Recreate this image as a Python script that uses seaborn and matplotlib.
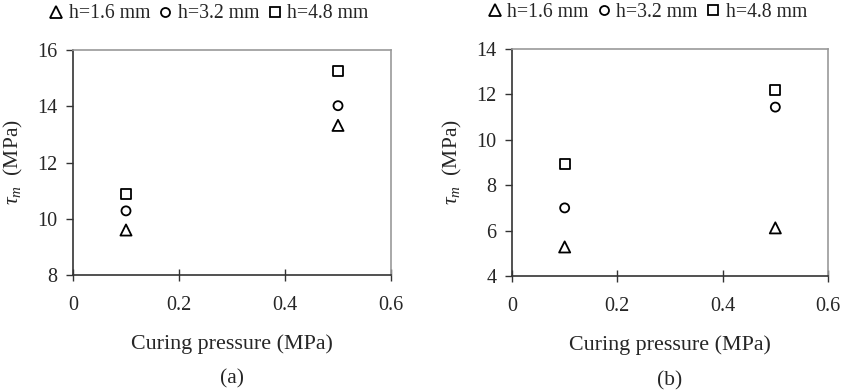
import matplotlib
matplotlib.use("Agg")
import matplotlib.pyplot as plt
import seaborn as sns
import pandas as pd
from matplotlib.lines import Line2D

# Data
pressure = [0.1, 0.5]
series_labels = ["h=1.6 mm", "h=3.2 mm", "h=4.8 mm"]
a_h16 = [9.60, 13.32]
a_h32 = [10.28, 14.02]
a_h48 = [10.88, 15.25]
b_h16 = [5.28, 6.12]
b_h32 = [7.00, 11.44]
b_h48 = [8.92, 12.18]
x_ticks = [0, 0.2, 0.4, 0.6]
a_yticks = [8, 10, 12, 14, 16]
b_yticks = [4, 6, 8, 10, 12, 14]
captions = ["(a)", "(b)"]

def long_df(vals):
    rows = []
    for lab, v in zip(series_labels, vals):
        for x, y in zip(pressure, v):
            rows.append({"p": x, "tau": y, "h": lab})
    return pd.DataFrame(rows)

df_a = long_df([a_h16, a_h32, a_h48])
df_b = long_df([b_h16, b_h32, b_h48])

sns.set_theme(style="white")
plt.rcParams["font.family"] = ["Liberation Serif", "DejaVu Serif"]
plt.rcParams["mathtext.fontset"] = "custom"
plt.rcParams["mathtext.it"] = "Liberation Serif:italic"
plt.rcParams["mathtext.rm"] = "Liberation Serif"

fig = plt.figure(figsize=(8.43, 3.91), dpi=100)
W, H = 843, 391
axA = fig.add_axes([73 / W, 1 - 275 / H, (391 - 73) / W, (275 - 50) / H])
axB = fig.add_axes([512 / W, 1 - 276 / H, (828 - 512) / W, (276 - 49) / H])

markers = {"h=1.6 mm": "^", "h=3.2 mm": "o", "h=4.8 mm": "s"}
sizes_pt = {"h=1.6 mm": 8, "h=3.2 mm": 6.5, "h=4.8 mm": 7}

for ax, df, yt, cap in [(axA, df_a, a_yticks, captions[0]), (axB, df_b, b_yticks, captions[1])]:
    for lab in series_labels:
        sub = df[df["h"] == lab]
        sns.scatterplot(data=sub, x="p", y="tau", marker=markers[lab], s=sizes_pt[lab] ** 2,
                        facecolor="none", edgecolor="black", linewidth=1.3, ax=ax, legend=False)
    ax.set_xlim(0, 0.6)
    ax.set_ylim(yt[0], yt[-1])
    ax.set_xticks(x_ticks)
    ax.set_xticklabels(["0", "0.2", "0.4", "0.6"])
    ax.set_yticks(yt)
    ax.tick_params(axis="y", direction="out", length=5, width=1, color="#333333", pad=6, labelsize=14.5, left=True)
    ax.tick_params(axis="x", direction="inout", length=8, width=1, color="#333333", pad=11, labelsize=14.5, bottom=True)
    for s in ["top", "right"]:
        ax.spines[s].set_color("#999999")
        ax.spines[s].set_linewidth(1.2)
    for s in ["left", "bottom"]:
        ax.spines[s].set_color("#333333")
        ax.spines[s].set_linewidth(1.2)
    ax.set_xlabel("Curing pressure (MPa)", fontsize=15.8, labelpad=14)
    ax.set_ylabel(r"$\tau_m$  (MPa)", fontsize=15.5, labelpad=9)
    ax.text(0.5, -0.46, cap, transform=ax.transAxes, ha="center", va="center", fontsize=15.5)
    handles = [Line2D([], [], marker=markers[l], linestyle="none", markerfacecolor="none",
                      markeredgecolor="black", markeredgewidth=1.3, markersize=sizes_pt[l])
               for l in series_labels]
    ax.legend(handles, series_labels, loc="center", bbox_to_anchor=(0.425, 1.16), ncol=3,
              frameon=False, fontsize=14.2, handletextpad=0.2, columnspacing=0.3, handlelength=0.9,
              borderaxespad=0, borderpad=0)

fig.savefig("out.png", dpi=100)
